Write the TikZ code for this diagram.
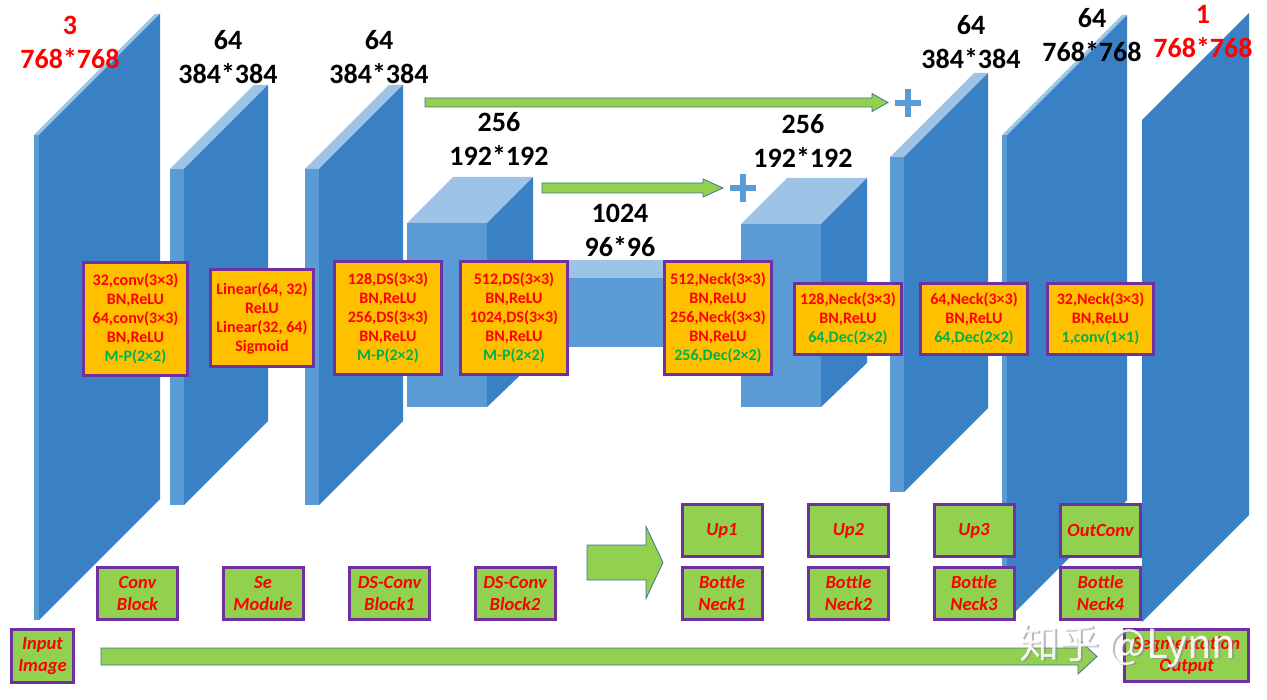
\documentclass[tikz,border=0pt]{standalone}
\usepackage{fontspec}
\setmainfont{Carlito}
\newfontfamily\cjk{Noto Sans CJK SC}
\usetikzlibrary{positioning,calc}
\definecolor{front}{HTML}{3A80C4}
\definecolor{side}{HTML}{5B9BD5}
\definecolor{topf}{HTML}{9DC3E6}
\definecolor{ora}{HTML}{FFC000}
\definecolor{pur}{HTML}{7030A0}
\definecolor{lgreen}{HTML}{92D050}
\definecolor{dgreen}{HTML}{00B050}
\definecolor{edge}{HTML}{41719C}

\begin{document}
\begin{tikzpicture}[x=1pt,y=-1pt,
  dim/.style={font=\fontsize{28}{34}\selectfont\bfseries,align=center,inner sep=0pt},
  op/.style={draw=pur,line width=3pt,fill=ora,align=center,inner sep=0pt,text=red,
    font=\fontsize{16}{19}\selectfont\bfseries},
  blk/.style={draw=pur,line width=3pt,fill=lgreen,align=center,inner sep=0pt,text=red,
    minimum width=80pt,minimum height=52pt,font=\fontsize{18.5}{22}\selectfont\bfseries\itshape},
  garrow/.style={fill=lgreen,draw=edge,line width=0.8pt},
  plus/.style={draw=side,line width=6pt}]
\useasboundingbox (0,0) rectangle (1267,700);

% feature maps (thin side, top, front)
\foreach \a/\b/\c/\t/\u in {34/39/160/135/620,170/184/268/169/505,305/319/403/169/505,
    890/904/988/157/492,1002/1007/1127/135/620,1142/1142/1249/120/622}{
  \pgfmathsetmacro\d{\c-\b}
  \fill[side] (\a,\t) rectangle (\b,\u);
  \fill[topf] (\a,\t) -- (\b,\t) -- (\c,\t-\d) -- (\c-\b+\a,\t-\d) -- cycle;
  \fill[front] (\b,\t) -- (\c,\t-\d) -- (\c,\u-\d) -- (\b,\u) -- cycle;
}

% bottleneck
\fill[topf] (530,260) rectangle (700,278);
\fill[side] (530,278) rectangle (700,347);

% cubes
\foreach \a/\b/\t/\u in {407/487/223/407,741/821/224/407}{
  \fill[side] (\a,\t) rectangle (\b,\u);
  \fill[topf] (\a,\t) -- (\a+46,\t-46) -- (\b+46,\t-46) -- (\b,\t) -- cycle;
  \fill[front] (\b,\t) -- (\b+46,\t-46) -- (\b+46,\u-44) -- (\b,\u) -- cycle;
}

% skip connections
\coordinate (plusA) at (908,103);
\coordinate (plusB) at (743,188);
\foreach \p in {plusA,plusB}
  \draw[plus] ([xshift=-13pt]\p) -- ([xshift=13pt]\p) ([yshift=-14pt]\p) -- ([yshift=14pt]\p);

\foreach \a/\b/\y/\s/\h/\l in {425/888/102.5/4.5/9/16,542/723/188/5/9/20,
    587/663/562.5/17.5/36/17,101/1097/656.5/8.5/17.5/19}
  \draw[garrow] (\a,\y-\s) -- (\b-\l,\y-\s) -- (\b-\l,\y-\h) -- (\b,\y)
    -- (\b-\l,\y+\h) -- (\b-\l,\y+\s) -- (\a,\y+\s) -- cycle;

% sizes
\node[dim,text=red] (dIn) at (70,42) {3\\768*768};
\node[dim] (dConv) at (228,57.5) {64\\384*384};
\node[dim] (dSe) at (379,57.5) {64\\384*384};
\node[dim] (dDown) at (499,139) {256\\192*192};
\node[dim] (dBott) at (620,230.5) {1024\\96*96};
\node[dim] (dUpA) at (803,141) {256\\192*192};
\node[dim] (dUpB) at (971,42) {64\\384*384};
\node[dim] (dUpC) at (1092,35) {64\\768*768};
\node[dim,text=red] (dOut) at (1203,32) {1\\768*768};

% layer details
\node[op,minimum width=104pt,minimum height=113pt] (opConv) at (135.5,319)
  {32,conv(3×3)\\BN,ReLU\\64,conv(3×3)\\BN,ReLU\\\textcolor{dgreen}{M-P(2×2)}};
\node[op,minimum width=103pt,minimum height=97pt] (opSe) at (262,318)
  {Linear(64, 32)\\ReLU\\Linear(32, 64)\\Sigmoid};
\node[op,minimum width=107pt,minimum height=113pt] (opDsA) at (388,318)
  {128,DS(3×3)\\BN,ReLU\\256,DS(3×3)\\BN,ReLU\\\textcolor{dgreen}{M-P(2×2)}};
\node[op,minimum width=107pt,minimum height=113pt] (opDsB) at (514,318)
  {512,DS(3×3)\\BN,ReLU\\1024,DS(3×3)\\BN,ReLU\\\textcolor{dgreen}{M-P(2×2)}};
\node[op,minimum width=107pt,minimum height=113pt] (opNeckA) at (718,318)
  {512,Neck(3×3)\\BN,ReLU\\256,Neck(3×3)\\BN,ReLU\\\textcolor{dgreen}{256,Dec(2×2)}};
\node[op,minimum width=107pt,minimum height=71pt] (opNeckB) at (848,319)
  {128,Neck(3×3)\\BN,ReLU\\\textcolor{dgreen}{64,Dec(2×2)}};
\node[op,minimum width=107pt,minimum height=71pt] (opNeckC) at (974,319)
  {64,Neck(3×3)\\BN,ReLU\\\textcolor{dgreen}{64,Dec(2×2)}};
\node[op,minimum width=106pt,minimum height=71pt] (opNeckD) at (1100.5,319)
  {32,Neck(3×3)\\BN,ReLU\\\textcolor{dgreen}{1,conv(1×1)}};

% module names
\node[blk,minimum width=62pt,minimum height=53pt] (input) at (42.5,656) {Input\\Image};
\node[blk] (conv) at (137.5,593.5) {Conv\\Block};
\node[blk] (se) at (263,593.5) {Se\\Module};
\node[blk] (dsA) at (389.5,593.5) {DS-Conv\\Block1};
\node[blk] (dsB) at (515,593.5) {DS-Conv\\Block2};
\node[blk] (up1) at (722,530.5) {Up1};
\node[blk] (up2) at (848.5,530.5) {Up2};
\node[blk] (up3) at (974,530.5) {Up3};
\node[blk] (outc) at (1100.5,530.5) {OutConv};
\node[blk,below=8pt of up1] (neck1) {Bottle\\Neck1};
\node[blk,below=8pt of up2] (neck2) {Bottle\\Neck2};
\node[blk,below=8pt of up3] (neck3) {Bottle\\Neck3};
\node[blk,below=8pt of outc] (neck4) {Bottle\\Neck4};
\node[blk,minimum width=124pt] (segout) at (1186.5,655.5) {Segmentation\\Output};

% watermark
\node[font=\cjk\fontsize{40}{40}\selectfont,text=black!45,opacity=.6] (wmShadow) at (1129.5,647.5) {知乎 @Lynn};
\node[font=\cjk\fontsize{40}{40}\selectfont,text=white,opacity=.9] (wm) at (1128,646) {知乎 @Lynn};

\end{tikzpicture}
\end{document}
